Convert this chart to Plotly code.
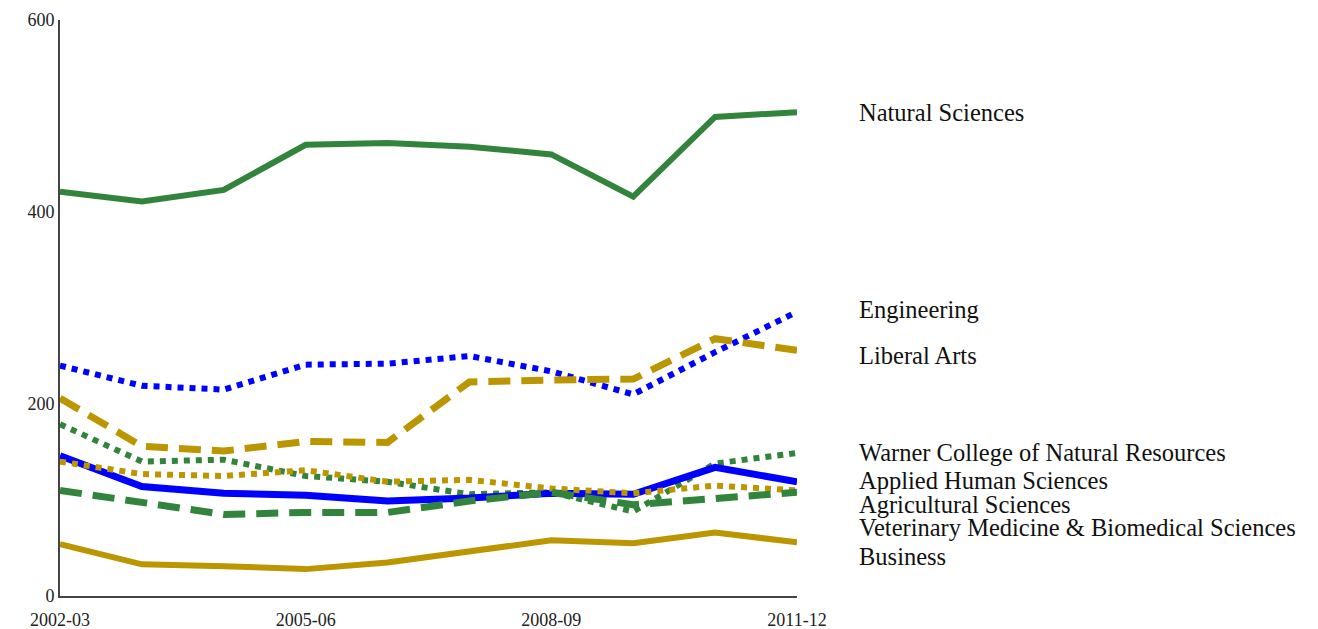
import plotly.graph_objects as go

years = ["2002-03", "2003-04", "2004-05", "2005-06", "2006-07",
         "2007-08", "2008-09", "2009-10", "2010-11", "2011-12"]

natural_sciences = [421, 411, 423, 470, 472, 468, 460, 416, 499, 504]
engineering = [240, 219, 215, 241, 242, 250, 234, 210, 254, 296]
liberal_arts = [206, 156, 151, 161, 160, 223, 225, 226, 268, 256]
warner = [179, 140, 142, 125, 119, 106, 108, 88, 138, 149]
applied_human = [146, 114, 107, 105, 99, 102, 107, 106, 134, 119]
agricultural = [140, 127, 125, 131, 119, 121, 112, 107, 115, 110]
vet_med = [110, 98, 85, 87, 87, 99, 108, 95, 102, 108]
business = [54, 33, 31, 28, 35, 46, 58, 55, 66, 56]

tick_years = ["2002-03", "2005-06", "2008-09", "2011-12"]
y_ticks = [0, 200, 400, 600]

GREEN = "#32843c"
GOLD = "#bb9600"
BLUE = "#0000ff"

series = [
    ("Natural Sciences", natural_sciences, GREEN, "solid", 6),
    ("Engineering", engineering, BLUE, "dot", 6),
    ("Liberal Arts", liberal_arts, GOLD, "22px,11px", 7),
    ("Warner College of Natural Resources", warner, GREEN, "dot", 6),
    ("Applied Human Sciences", applied_human, BLUE, "solid", 7),
    ("Agricultural Sciences", agricultural, GOLD, "dot", 6),
    ("Veterinary Medicine & Biomedical Sciences", vet_med, GREEN, "22px,11px", 7),
    ("Business", business, GOLD, "solid", 6),
]

label_y = [504, 298, 251, 150, 120, 95, 71, 41]

FONT = "Liberation Serif"

fig = go.Figure()
for (name, vals, color, dash, w) in series:
    fig.add_trace(go.Scatter(
        x=list(range(len(years))), y=vals, mode="lines", name=name,
        line=dict(color=color, dash=dash, width=w),
        hoverinfo="skip",
    ))

for (name, vals, color, dash, w), ly in zip(series, label_y):
    fig.add_annotation(
        x=1.0814, xref="paper", y=ly, yref="y", text=name, showarrow=False,
        xanchor="left", yanchor="middle",
        font=dict(family=FONT, size=24.5, color="#111111"),
    )

fig.update_layout(
    width=1318, height=629,
    margin=dict(l=52, r=529, t=12, b=41, autoexpand=False),
    plot_bgcolor="white", paper_bgcolor="white",
    showlegend=False,
    font=dict(family=FONT, size=17, color="#222222"),
)
fig.update_xaxes(
    range=[0, 9], tickmode="array", automargin=False,
    tickvals=[years.index(t) for t in tick_years], ticktext=tick_years,
    showgrid=False, zeroline=False, showline=True, linecolor="#444444",
    linewidth=2, ticks="", ticklabelstandoff=6,
    tickfont=dict(size=18, family=FONT),
)
fig.update_yaxes(
    range=[0, 600], tickmode="array", tickvals=y_ticks, automargin=False,
    showgrid=False, zeroline=False, showline=True, linecolor="#444444",
    linewidth=2, ticks="", tickfont=dict(size=18, family=FONT),
)

fig.write_html("out.html")
